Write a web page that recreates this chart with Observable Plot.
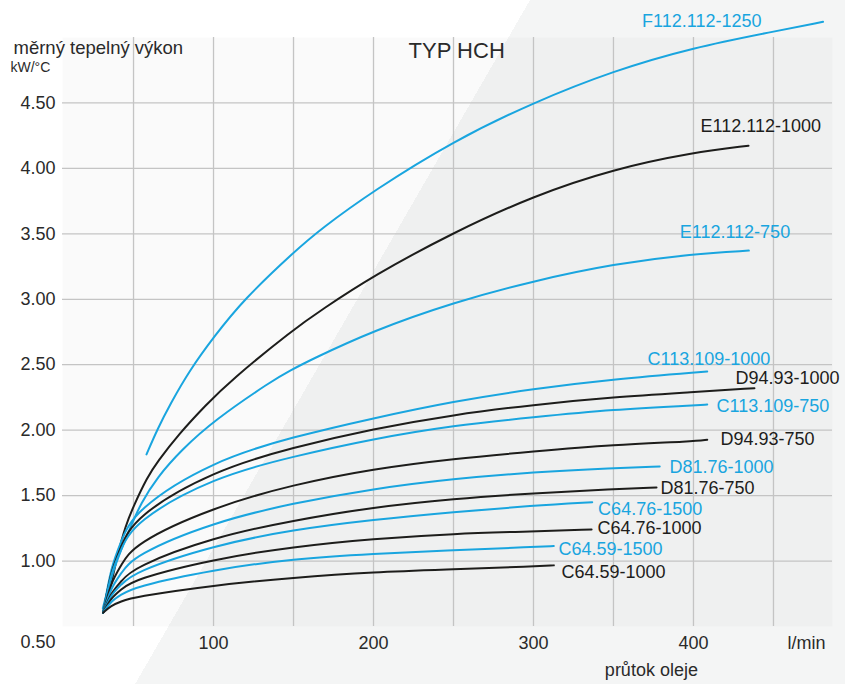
<!DOCTYPE html>
<html><head><meta charset="utf-8">
<script src="https://cdn.jsdelivr.net/npm/d3@7"></script>
<script src="https://cdn.jsdelivr.net/npm/@observablehq/plot@0.6"></script>
<style>
html,body{margin:0;padding:0;width:845px;height:684px;overflow:hidden;}
body{background:linear-gradient(120deg,#ffffff 459px,#f4f5f5 459px);font-family:"Liberation Sans",Arial,sans-serif;}
</style></head><body><div id="chart"></div><script>
// ---- data (x = průtok oleje l/min, y = měrný tepelný výkon kW/°C) ----
const F112_112_1250 = [[58.1,1.815],[65,2.01],[73,2.20],[85,2.456],[100,2.71],[119,3.0],[150,3.359],[167,3.537],[200,3.83],[250,4.21],[300,4.504],[350,4.746],[400,4.924],[450,5.045],[481,5.12]];
const E112_112_1000 = [[35.2,0.777],[40,1.05],[45,1.27],[50,1.42],[58.5,1.64],[65,1.76],[78.3,1.97],[95,2.19],[110.6,2.379],[150,2.77],[167,2.915],[200,3.181],[250,3.511],[300,3.79],[350,3.995],[400,4.122],[434.4,4.173]];
const E112_112_750 = [[30.8,0.64],[37.7,0.954],[48.1,1.26],[54.4,1.438],[64.8,1.641],[80,1.85],[100.2,2.074],[136.7,2.379],[148,2.456],[160.6,2.537],[200,2.761],[250,2.977],[300,3.14],[350,3.27],[400,3.347],[434.6,3.372]];
const C113_109_1000 = [[31,0.605],[36,0.96],[42,1.14],[50,1.387],[100,1.769],[150,1.95],[200,2.092],[250,2.221],[300,2.316],[350,2.39],[408.6,2.448]];
const D94_93_1000 = [[31,0.605],[36,0.93],[42,1.10],[50,1.336],[100,1.692],[150,1.87],[200,2.011],[250,2.118],[300,2.194],[350,2.252],[400,2.29],[438.1,2.321]];
const C113_109_750 = [[31,0.605],[36,0.92],[42,1.08],[50,1.298],[100,1.641],[150,1.80],[200,1.934],[250,2.036],[300,2.099],[350,2.158],[400,2.189],[408.6,2.196]];
const D94_93_750 = [[31,0.605],[36,0.84],[42,0.96],[50,1.133],[100,1.412],[150,1.585],[200,1.705],[250,1.782],[300,1.837],[350,1.888],[400,1.914],[408.6,1.927]];
const D81_76_1000 = [[31,0.605],[36,0.80],[42,0.90],[50,1.044],[100,1.298],[150,1.443],[200,1.553],[250,1.629],[300,1.679],[350,1.71],[378.9,1.723]];
const D81_76_750 = [[31,0.605],[36,0.76],[42,0.84],[50,0.954],[100,1.183],[150,1.311],[200,1.412],[250,1.476],[300,1.519],[350,1.55],[376.9,1.562]];
const C64_76_1500 = [[31,0.605],[36,0.745],[42,0.815],[50,0.916],[100,1.12],[150,1.24],[200,1.316],[250,1.374],[300,1.425],[336.7,1.45]];
const C64_76_1000 = [[31,0.605],[36,0.72],[42,0.78],[50,0.86],[100,1.015],[150,1.11],[200,1.171],[250,1.209],[300,1.227],[336.3,1.242]];
const C64_59_1500 = [[31,0.605],[36,0.695],[42,0.74],[50,0.802],[100,0.934],[150,1.018],[200,1.056],[250,1.082],[300,1.108],[312.7,1.115]];
const C64_59_1000 = [[31,0.605],[36,0.66],[42,0.69],[50,0.725],[100,0.815],[150,0.873],[200,0.916],[250,0.937],[300,0.96],[312.7,0.967]];

const seriesNames = ["F112.112-1250","E112.112-1000","E112.112-750","C113.109-1000","D94.93-1000","C113.109-750","D94.93-750","D81.76-1000","D81.76-750","C64.76-1500","C64.76-1000","C64.59-1500","C64.59-1000"];
const seriesData = [F112_112_1250,E112_112_1000,E112_112_750,C113_109_1000,D94_93_1000,C113_109_750,D94_93_750,D81_76_1000,D81_76_750,C64_76_1500,C64_76_1000,C64_59_1500,C64_59_1000];
// label anchor points (data units)
const labelX = [367.9,404.4,391.4,371.3,426.3,414.4,416.9,385,379.4,340.4,340,315.6,317.5];
const labelY = [5.127,4.321,3.511,2.540,2.395,2.181,1.929,1.715,1.555,1.395,1.25,1.089,0.914];

const yTicks = [1.0,1.5,2.0,2.5,3.0,3.5,4.0,4.5];
const yBottomTick = [0.5];
const xTickValues = [100,200,300,400,470.6];
const xTickLabels = ["100","200","300","400","l/min"];
const xGrid = [50,100,150,200,250,300,350,400,450];
const title = "TYP HCH";
const yTitle = "měrný tepelný výkon";
const yUnit = "kW/°C";
const xTitle = "průtok oleje";
const xTitlePos = 373.7;
const titlePos = 252;

const BLUE = "#19a5df", BLACK = "#1d1d1b", INK = "#2a2a2a";
const seriesColors = ["F112.112-1250","E112.112-750","C113.109-1000","C113.109-750","D81.76-1000","C64.76-1500","C64.59-1500"];

const rows = seriesNames.flatMap((n,i) => seriesData[i].map(([x,y]) => ({name:n, x, y})));
const labels = seriesNames.map((n,i) => ({name:n, x:labelX[i], y:labelY[i]}));

const chart = Plot.plot({
  width: 845, height: 684,
  marginLeft: 62, marginRight: 13, marginTop: 37, marginBottom: 58,
  style: {background: "transparent", fontFamily: '"Liberation Sans", Arial, sans-serif', fontSize: "18px", overflow: "visible"},
  x: {domain: [5.6, 486.9]},
  y: {domain: [0.5, 5.0]},
  color: {domain: seriesNames, range: seriesNames.map(n => seriesColors.includes(n) ? BLUE : BLACK)},
  marks: [
    Plot.frame({fill: "#000", fillOpacity: 0.02, stroke: "none"}),
    Plot.gridX(xGrid, {stroke: "#c4c4c4", strokeOpacity: 1, strokeWidth: 1.3}),
    Plot.gridY(yTicks, {stroke: "#c4c4c4", strokeOpacity: 1, strokeWidth: 1.3}),
    Plot.line(rows, {x: "x", y: "y", z: "name", stroke: "name", strokeWidth: 2, curve: "basis"}),
    Plot.text(labels, {x: "x", y: "y", text: "name", fill: "name", textAnchor: "start", fontSize: 18}),
    Plot.axisY(yTicks, {tickFormat: d => d.toFixed(2), tickSize: 0, tickPadding: 7, fontSize: 18, fill: INK, label: null}),
    Plot.axisY(yBottomTick, {tickFormat: d => d.toFixed(2), tickSize: 0, tickPadding: 7, fontSize: 18, fill: INK, label: null, dy: 16}),
    Plot.axisX(xTickValues, {tickFormat: d => xTickLabels[xTickValues.indexOf(d)], tickSize: 0, tickPadding: 10, fontSize: 18, fill: INK, label: null}),
    Plot.text([yTitle], {frameAnchor: "top-left", textAnchor: "start", dx: -49, dy: 3, fontSize: 18.5, fill: INK, text: d => d}),
    Plot.text([yUnit], {frameAnchor: "top-left", textAnchor: "start", dx: -52, dy: 25, fontSize: 14, fill: INK, text: d => d}),
    Plot.text([title], {x: () => titlePos, frameAnchor: "top", dy: 5, fontSize: 22, fill: INK, text: d => d}),
    Plot.text([xTitle], {x: () => xTitlePos, frameAnchor: "bottom", dy: 49, fontSize: 18, fill: INK, text: d => d})
  ]
});
document.getElementById("chart").appendChild(chart);
</script></body></html>
